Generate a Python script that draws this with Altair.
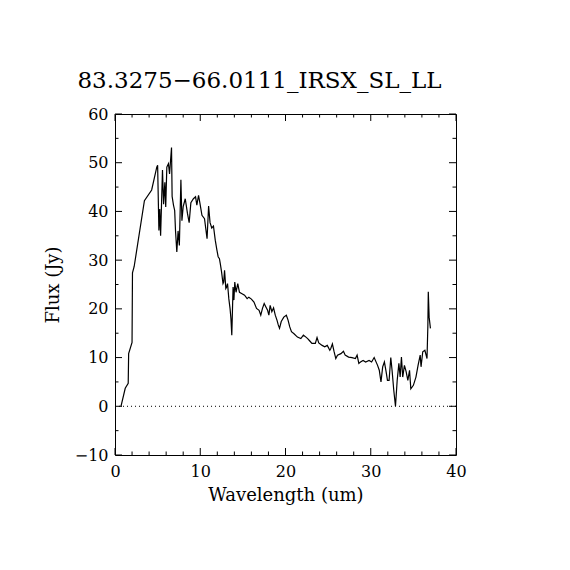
import altair as alt
import pandas as pd

wavelength = [0.7, 1.2, 1.55, 1.6, 2.0, 2.05, 2.25, 3.45, 4.3, 4.9, 5.0, 5.15, 5.25, 5.35, 5.45,
              5.57, 5.7, 5.85, 5.95, 6.08, 6.27, 6.4, 6.63, 6.7, 6.86, 7.0, 7.1, 7.25, 7.4, 7.55,
              7.73, 7.85, 8.0, 8.24, 8.5, 8.7, 8.9, 9.2, 9.45, 9.6, 9.8, 9.95, 10.2, 10.5, 10.8,
              10.98, 11.15, 11.35, 11.55, 11.76, 11.95, 12.1, 12.25, 12.35, 12.5, 12.67, 12.75,
              12.85, 13.0, 13.1, 13.2, 13.35, 13.5, 13.6, 13.7, 13.85, 13.95, 14.05, 14.2, 14.4,
              14.6, 14.9, 15.2, 15.5, 15.7, 16.0, 16.3, 16.6, 16.9, 17.1, 17.3, 17.5, 17.7, 17.9,
              18.05, 18.2, 18.4, 18.6, 18.8, 19.0, 19.15, 19.3, 19.5, 19.8, 20.1, 20.3, 20.5, 20.7,
              21.0, 21.4, 21.8, 22.1, 22.4, 22.6, 22.85, 23.1, 23.5, 23.7, 23.9, 24.3, 24.6, 24.9,
              25.2, 25.3, 25.5, 25.7, 25.9, 26.1, 26.5, 26.8, 27.0, 27.4, 27.8, 28.2, 28.4, 28.6,
              28.8, 29.1, 29.4, 29.8, 30.1, 30.4, 30.8, 31.0, 31.2, 31.4, 31.6, 31.8, 31.96, 32.15,
              32.35, 32.5, 32.7, 32.9, 33.1, 33.3, 33.45, 33.6, 33.75, 33.95, 34.15, 34.35, 34.55,
              34.7, 35.0, 35.3, 35.55, 35.8, 35.9, 36.1, 36.35, 36.6, 36.7, 36.75, 36.85, 37.0]
flux = [0.0, 3.7, 4.7, 10.8, 13.1, 27.4, 28.7, 42.2, 44.4, 49.1, 49.5, 36.1, 40.5, 35.0, 41.0,
        48.5, 41.5, 46.0, 40.9, 49.1, 49.8, 47.7, 53.1, 43.1, 41.3, 40.2, 36.0, 31.7, 36.0, 33.0,
        46.5, 38.1, 41.0, 42.6, 39.6, 37.7, 41.8, 42.6, 43.0, 41.3, 43.3, 41.8, 39.2, 38.5, 34.4,
        41.1, 37.7, 36.6, 37.0, 34.1, 32.1, 30.7, 30.3, 29.3, 27.6, 25.2, 25.5,
        27.9, 24.2, 24.5, 25.2, 22.1, 20.0, 18.0, 14.6, 24.5, 21.8, 25.5, 23.4, 25.2,
        23.4, 23.1, 22.8, 22.1, 22.4, 22.0, 21.4, 20.1, 19.7, 18.7, 20.1, 21.1, 20.4, 19.7,
        18.7, 20.7, 19.4, 20.2, 18.7, 17.7, 16.7, 16.0, 17.4, 18.3, 18.7, 17.7, 16.3, 15.3,
        14.9, 14.2, 13.9, 14.6, 14.2, 13.9, 13.4, 12.9, 12.9, 14.1, 13.0, 12.5, 12.2, 12.5,
        11.5, 11.8, 12.8, 11.2, 9.8, 10.5, 10.8, 11.3, 10.5, 10.1, 10.0, 9.8, 10.5, 8.8,
        9.1, 9.4, 9.1, 9.4, 9.1, 10.0, 8.4, 7.4, 5.0, 8.1, 9.1, 7.1, 5.3, 5.3,
        10.0, 7.4, 3.3, 0.0, 5.3, 8.8, 6.0, 10.1, 6.0, 8.4, 7.1, 5.3, 7.4,
        3.6, 4.3, 6.0, 8.4, 10.5, 8.1, 11.2, 11.5, 9.8, 16.6, 23.5, 18.3, 16.0]

x_major = [0, 10, 20, 30, 40]
x_minor = [2, 4, 6, 8, 12, 14, 16, 18, 22, 24, 26, 28, 32, 34, 36, 38]
y_major = [-10, 0, 10, 20, 30, 40, 50, 60]
y_minor = [-5, 5, 15, 25, 35, 45, 55]

W, H = 341, 341
FONT = "DejaVu Serif"

df = pd.DataFrame({"w": wavelength, "f": flux})
xs = alt.Scale(domain=[0, 40], nice=False, zero=False)
ys = alt.Scale(domain=[-10, 60], nice=False, zero=False)

line = alt.Chart(df).mark_line(color="black", strokeWidth=1.2, clip=True).encode(
    x=alt.X("w:Q", scale=xs, axis=alt.Axis(
        title="Wavelength (um)", values=x_major, format="d", ticks=False, domain=False, grid=False,
        labelFlush=False, labelFont=FONT, labelFontSize=16, labelColor="black", labelPadding=8,
        titleFont=FONT, titleFontSize=18, titleFontWeight="normal", titleColor="black", titlePadding=7)),
    y=alt.Y("f:Q", scale=ys, axis=alt.Axis(
        title="Flux (Jy)", values=y_major, format="d", ticks=False, domain=False, grid=False,
        labelFlush=False, labelFont=FONT, labelFontSize=16, labelColor="black", labelPadding=7,
        titleFont=FONT, titleFontSize=18, titleFontWeight="normal", titleColor="black", titlePadding=12)),
)

zero = alt.Chart(pd.DataFrame({"z": [0]})).mark_rule(color="black", strokeWidth=1, strokeDash=[1, 3]).encode(
    y=alt.Y("z:Q", scale=ys))

def xticks(vals, length):
    d = pd.DataFrame({"t": vals})
    b = alt.Chart(d).mark_rule(color="black", strokeWidth=1).encode(
        x=alt.X("t:Q", scale=xs), y=alt.value(H), y2=alt.value(H - length))
    t = alt.Chart(d).mark_rule(color="black", strokeWidth=1).encode(
        x=alt.X("t:Q", scale=xs), y=alt.value(0), y2=alt.value(length))
    return [b, t]

def yticks(vals, length):
    d = pd.DataFrame({"t": vals})
    l = alt.Chart(d).mark_rule(color="black", strokeWidth=1).encode(
        y=alt.Y("t:Q", scale=ys), x=alt.value(0), x2=alt.value(length))
    r = alt.Chart(d).mark_rule(color="black", strokeWidth=1).encode(
        y=alt.Y("t:Q", scale=ys), x=alt.value(W), x2=alt.value(W - length))
    return [l, r]

layers = [line, zero] + xticks(x_major, 7) + xticks(x_minor, 3.5) + yticks(y_major, 7) + yticks(y_minor, 3.5)

chart = alt.layer(*layers).properties(
    width=W, height=H,
    title=alt.TitleParams("83.3275\u221266.0111_IRSX_SL_LL", font=FONT, fontSize=23,
                          fontWeight="normal", color="black", anchor="middle", dx=-26, offset=13),
    autosize=alt.AutoSizeParams(type="none"),
    padding={"left": 107, "top": 106, "right": 100, "bottom": 100},
    background="white",
).configure_view(stroke="black", strokeWidth=1)

chart.save("out.html", embed_options={"renderer": "svg", "actions": False})
